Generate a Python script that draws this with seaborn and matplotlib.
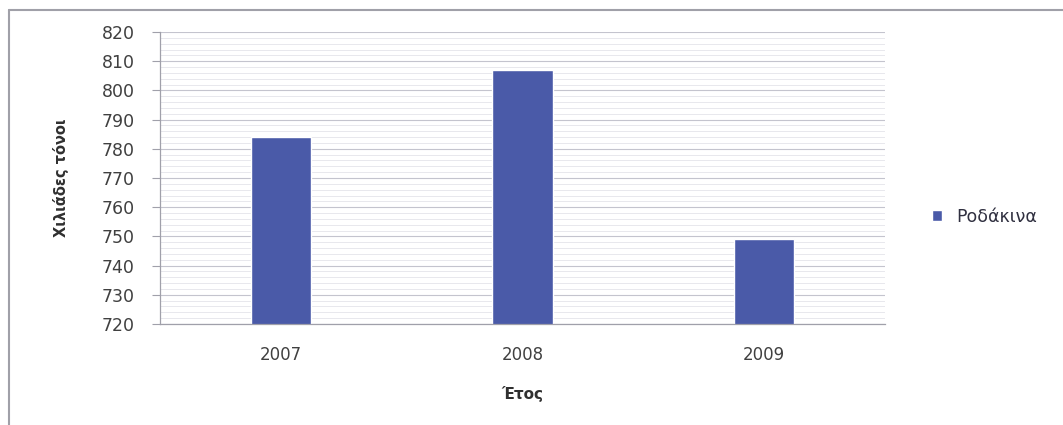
import matplotlib
matplotlib.use("Agg")
import matplotlib.pyplot as plt
from matplotlib.lines import Line2D
from matplotlib.ticker import MultipleLocator
import seaborn as sns
import pandas as pd

# Peach production by year (thousand tonnes)
years = ["2007", "2008", "2009"]
values = [784, 807, 749]
series = "Ροδάκινα"
y_label = "Χιλιάδες τόνοι"
x_label = "Έτος"

df = pd.DataFrame({"year": years, "value": values, "series": series})

sns.set_theme(style="white")
plt.rcParams["font.family"] = ["DejaVu Sans"]

fig = plt.figure(figsize=(10.63, 4.25), dpi=100)
ax = fig.add_axes([0.1505, 0.2376, 0.8326 - 0.1505, 0.9247 - 0.2376])

bar_color = "#4a5aa8"
sns.barplot(data=df, x="year", y="value", hue="series", palette=[bar_color],
            width=0.25, dodge=False, ax=ax, saturation=1, legend=True)

ax.set_ylim(720, 820)
ax.yaxis.set_major_locator(MultipleLocator(10))
ax.yaxis.set_minor_locator(MultipleLocator(2))
ax.grid(which="major", axis="y", color="#c4c4ce", linewidth=0.8)
ax.grid(which="minor", axis="y", color="#e4e4ea", linewidth=0.6)
ax.set_axisbelow(True)

for s in ["top", "right"]:
    ax.spines[s].set_visible(False)
for s in ["left", "bottom"]:
    ax.spines[s].set_color("#a0a0aa")
    ax.spines[s].set_linewidth(0.9)

ax.tick_params(axis="y", which="major", left=True, length=6, width=0.8,
               color="#a0a0aa", pad=12, labelsize=12.5, labelcolor="#404040")
ax.tick_params(axis="y", which="minor", left=False)
ax.tick_params(axis="x", bottom=False, pad=10, labelsize=12, labelcolor="#404040")

ax.set_xlabel(x_label, fontsize=11, fontweight="bold", color="#303030", labelpad=16)
ax.set_ylabel(y_label, fontsize=10.5, fontweight="bold", color="#303030", labelpad=24)
ax.set_xlim(-0.5, 2.5)

# Legend on the right, outside the plot area
handles, labels = ax.get_legend_handles_labels()
ax.get_legend().remove()
fig.legend(handles, labels, loc="center left", bbox_to_anchor=(0.862, 0.49),
           frameon=False, fontsize=12.5, handlelength=0.6, handleheight=0.6,
           handletextpad=0.8, labelcolor="#303040")

# Outer chart frame
fig.add_artist(Line2D([9 / 1063, 1.0], [1 - 10 / 425, 1 - 10 / 425],
                      transform=fig.transFigure, color="#a0a0a8", linewidth=1.5))
fig.add_artist(Line2D([9 / 1063, 9 / 1063], [0.0, 1 - 10 / 425],
                      transform=fig.transFigure, color="#a0a0a8", linewidth=1.5))

fig.savefig("out.png", dpi=100, facecolor="white")
